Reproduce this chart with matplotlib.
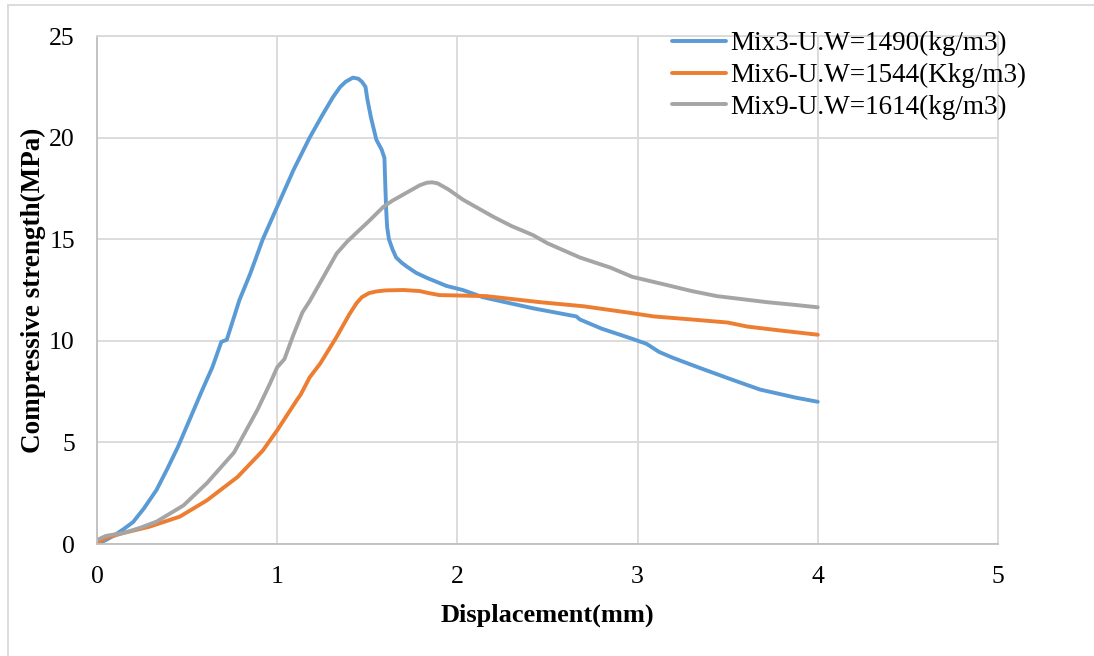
import matplotlib.pyplot as plt
from matplotlib.lines import Line2D

plt.rcParams['font.family'] = ['Liberation Serif', 'DejaVu Serif']

# displacement (mm) / compressive strength (MPa) curves
mix3_x = [0, 0.05, 0.10, 0.15, 0.20, 0.26, 0.33, 0.39, 0.45, 0.52, 0.58, 0.64, 0.69,
          0.72, 0.79, 0.85, 0.92, 1.00, 1.09, 1.18, 1.25, 1.31, 1.35, 1.38, 1.42,
          1.45, 1.47, 1.49, 1.50, 1.52, 1.55, 1.58, 1.595, 1.60, 1.605, 1.61, 1.62,
          1.64, 1.66, 1.69, 1.72, 1.77, 1.83, 1.94, 2.03, 2.14, 2.24, 2.42, 2.66,
          2.68, 2.80, 2.97, 3.05, 3.12, 3.20, 3.35, 3.53, 3.68, 3.88, 4.00]
mix3_y = [0, 0.2, 0.45, 0.75, 1.08, 1.75, 2.66, 3.7, 4.8, 6.25, 7.5, 8.7, 9.95,
          10.05, 12.0, 13.3, 15.0, 16.6, 18.4, 20.0, 21.1, 22.0, 22.5, 22.75, 22.95,
          22.9, 22.75, 22.5, 21.9, 21.0, 19.9, 19.4, 19.0, 17.6, 16.4, 15.6, 15.0,
          14.5, 14.1, 13.85, 13.65, 13.35, 13.1, 12.7, 12.5, 12.15, 11.95, 11.6, 11.2,
          11.05, 10.6, 10.1, 9.85, 9.45, 9.15, 8.65, 8.07, 7.6, 7.2, 7.0]

mix6_x = [0, 0.05, 0.15, 0.29, 0.46, 0.61, 0.78, 0.92, 1.00, 1.11, 1.13, 1.18, 1.24,
          1.33, 1.40, 1.44, 1.47, 1.51, 1.55, 1.60, 1.70, 1.79, 1.84, 1.90, 2.16,
          2.46, 2.70, 2.94, 3.09, 3.30, 3.50, 3.61, 3.80, 4.00]
mix6_y = [0.05, 0.3, 0.55, 0.85, 1.35, 2.15, 3.3, 4.6, 5.6, 7.1, 7.35, 8.2, 8.9,
          10.2, 11.3, 11.85, 12.15, 12.35, 12.43, 12.48, 12.5, 12.45, 12.35, 12.25, 12.2,
          11.9, 11.7, 11.4, 11.2, 11.05, 10.9, 10.7, 10.5, 10.3]

mix9_x = [0, 0.05, 0.15, 0.24, 0.33, 0.48, 0.61, 0.76, 0.89, 0.96, 1.00, 1.04, 1.09,
          1.14, 1.18, 1.26, 1.33, 1.39, 1.45, 1.51, 1.59, 1.64, 1.69, 1.74, 1.79,
          1.83, 1.86, 1.89, 1.95, 2.03, 2.10, 2.20, 2.30, 2.42, 2.50, 2.68, 2.85,
          2.97, 3.16, 3.30, 3.44, 3.58, 3.72, 3.86, 4.00]
mix9_y = [0.2, 0.4, 0.55, 0.8, 1.1, 1.9, 3.0, 4.5, 6.6, 7.9, 8.7, 9.1, 10.3,
          11.4, 11.95, 13.2, 14.3, 14.9, 15.4, 15.9, 16.6, 16.9, 17.15, 17.4, 17.65,
          17.78, 17.8, 17.75, 17.45, 16.95, 16.6, 16.1, 15.65, 15.2, 14.8, 14.1, 13.6,
          13.15, 12.75, 12.45, 12.2, 12.05, 11.9, 11.78, 11.65]

labels = ['Mix3-U.W=1490(kg/m3)', 'Mix6-U.W=1544(Kkg/m3)', 'Mix9-U.W=1614(kg/m3)']
colors = ['#5B9BD5', '#ED7D31', '#A5A5A5']

fig = plt.figure(figsize=(10.94, 6.56), dpi=100)
ax = fig.add_axes([0.0887, 0.1707, 0.8235, 0.7744])

for xs, ys, lab, c in zip([mix3_x, mix6_x, mix9_x], [mix3_y, mix6_y, mix9_y],
                          labels, colors):
    ax.plot(xs, ys, color=c, lw=2.8, label=lab,
            solid_capstyle='round', solid_joinstyle='round')

ax.set_xlim(0, 5)
ax.set_ylim(0, 25)
ax.set_xticks(range(0, 6))
ax.set_yticks(range(0, 26, 5))
ax.grid(True, color='#d9d9d9', lw=1.3)
ax.set_axisbelow(True)
for side in ['top', 'right']:
    ax.spines[side].set_color('#d9d9d9')
    ax.spines[side].set_linewidth(1.3)
for side in ['left', 'bottom']:
    ax.spines[side].set_color('#bfbfbf')
    ax.spines[side].set_linewidth(1.3)
ax.tick_params(length=0, pad=16, labelsize=18.5)

ax.set_xlabel('Displacement(mm)', fontsize=19, fontweight='bold', labelpad=11)
ax.set_ylabel('Compressive strength(MPa)', fontsize=19.5, fontweight='bold', labelpad=2)

ax.legend(loc='upper left', bbox_to_anchor=(672 / 1094, 1 - 31 / 656),
          bbox_transform=fig.transFigure, frameon=False, fontsize=19.5,
          handlelength=2.0, handletextpad=0.15, labelspacing=0.25,
          borderpad=0, borderaxespad=0)

# chart border
fig.add_artist(Line2D([8 / 1094, 8 / 1094], [0, 1 - 5 / 656], color='#d9d9d9', lw=1.3))
fig.add_artist(Line2D([8 / 1094, 1], [1 - 5 / 656, 1 - 5 / 656], color='#d9d9d9', lw=1.3))

fig.savefig('out.png', dpi=100)
